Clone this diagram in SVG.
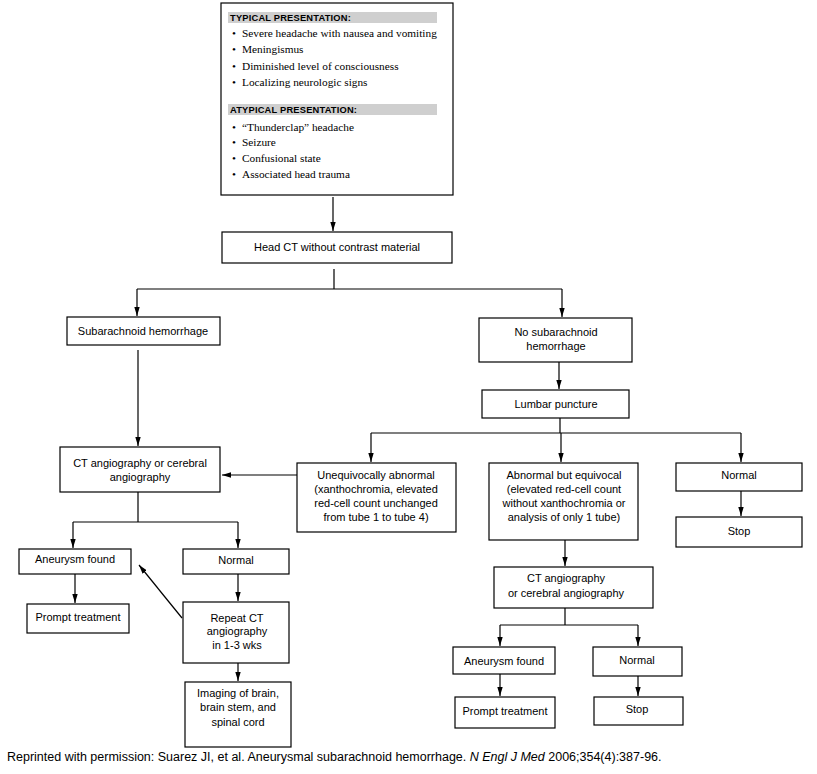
<svg xmlns="http://www.w3.org/2000/svg" width="817" height="774" viewBox="0 0 817 774">
<defs>
<marker id="ah" viewBox="0 0 10 6" refX="10" refY="3" markerWidth="9" markerHeight="5.4" markerUnits="userSpaceOnUse" orient="auto"><path d="M0,0 L10,3 L0,6 z" fill="#000"/></marker>
<style>
.box{fill:#fff;stroke:#000;stroke-width:1.2}
.t{font-family:"Liberation Sans",Arial,sans-serif;font-size:11px;fill:#000;text-anchor:middle}
.s{font-family:"Liberation Serif","Times New Roman",serif;font-size:11.3px;fill:#000}
.h{font-family:"Liberation Sans",Arial,sans-serif;font-size:9.3px;font-weight:bold;fill:#000;letter-spacing:0.2px}
.band{fill:#cfcfcf}
.c{fill:none;stroke:#000;stroke-width:1.2}
.a{fill:none;stroke:#000;stroke-width:1.2;marker-end:url(#ah)}
</style>
</defs>
<rect width="817" height="774" fill="#fff"/>
<g id="presentation">
<rect class="box" x="221" y="3" width="232" height="192"/>
<rect class="band" x="228" y="12" width="209" height="11"/>
<text class="h" x="230" y="21">TYPICAL PRESENTATION:</text>
<text class="s" y="37"><tspan x="232">•</tspan><tspan x="242">Severe headache with nausea and vomiting</tspan></text>
<text class="s" y="53"><tspan x="232">•</tspan><tspan x="242">Meningismus</tspan></text>
<text class="s" y="70"><tspan x="232">•</tspan><tspan x="242">Diminished level of consciousness</tspan></text>
<text class="s" y="86"><tspan x="232">•</tspan><tspan x="242">Localizing neurologic signs</tspan></text>
<rect class="band" x="228" y="104" width="209" height="11"/>
<text class="h" x="230" y="113">ATYPICAL PRESENTATION:</text>
<text class="s" y="131"><tspan x="232">•</tspan><tspan x="242">“Thunderclap” headache</tspan></text>
<text class="s" y="146"><tspan x="232">•</tspan><tspan x="242">Seizure</tspan></text>
<text class="s" y="162"><tspan x="232">•</tspan><tspan x="242">Confusional state</tspan></text>
<text class="s" y="178"><tspan x="232">•</tspan><tspan x="242">Associated head trauma</tspan></text>
</g>
<g id="headct"><rect class="box" x="222" y="232" width="230" height="31"/><text class="t" x="337" y="251">Head CT without contrast material</text></g>
<g id="sah"><rect class="box" x="67" y="317" width="153" height="28"/><text class="t" x="143" y="335">Subarachnoid hemorrhage</text></g>
<g id="nosah"><rect class="box" x="479" y="318" width="153" height="44"/><text class="t" x="556" y="336">No subarachnoid</text><text class="t" x="556" y="350">hemorrhage</text></g>
<g id="lp"><rect class="box" x="482" y="390" width="147" height="28"/><text class="t" x="556" y="408">Lumbar puncture</text></g>
<g id="ctangio1"><rect class="box" x="60" y="447" width="160" height="45"/><text class="t" x="140" y="467">CT angiography or cerebral</text><text class="t" x="140" y="481">angiography</text></g>
<g id="unequivocal"><rect class="box" x="297" y="463" width="159" height="69"/><text class="t" x="376" y="479">Unequivocally abnormal</text><text class="t" x="376" y="493">(xanthochromia, elevated</text><text class="t" x="376" y="507">red-cell count unchanged</text><text class="t" x="376" y="521">from tube 1 to tube 4)</text></g>
<g id="equivocal"><rect class="box" x="489" y="463" width="149" height="77"/><text class="t" x="564" y="479">Abnormal but equivocal</text><text class="t" x="564" y="493">(elevated red-cell count</text><text class="t" x="564" y="507">without xanthochromia or</text><text class="t" x="564" y="521">analysis of only 1 tube)</text></g>
<g id="normal1"><rect class="box" x="676" y="463" width="126" height="28"/><text class="t" x="739" y="479">Normal</text></g>
<g id="stop1"><rect class="box" x="676" y="517" width="126" height="30"/><text class="t" x="739" y="535">Stop</text></g>
<g id="aneurysm1"><rect class="box" x="19" y="549" width="112" height="25"/><text class="t" x="75" y="563">Aneurysm found</text></g>
<g id="prompt1"><rect class="box" x="27" y="604" width="102" height="29"/><text class="t" x="78" y="621">Prompt treatment</text></g>
<g id="normal2"><rect class="box" x="183" y="549" width="106" height="25"/><text class="t" x="236" y="564">Normal</text></g>
<g id="repeat"><rect class="box" x="183" y="602" width="106" height="61"/><text class="t" x="237" y="622">Repeat CT</text><text class="t" x="237" y="635">angiography</text><text class="t" x="237" y="649">in 1-3 wks</text></g>
<g id="imaging"><rect class="box" x="185" y="682" width="106" height="65"/><text class="t" x="238" y="697">Imaging of brain,</text><text class="t" x="238" y="711">brain stem, and</text><text class="t" x="238" y="726">spinal cord</text></g>
<g id="ctangio2"><rect class="box" x="494" y="567" width="159" height="41"/><text class="t" x="566" y="582">CT angiography</text><text class="t" x="566" y="597">or cerebral angiography</text></g>
<g id="aneurysm2"><rect class="box" x="453" y="647" width="102" height="27"/><text class="t" x="504" y="665">Aneurysm found</text></g>
<g id="normal3"><rect class="box" x="593" y="647" width="89" height="29"/><text class="t" x="637" y="664">Normal</text></g>
<g id="prompt2"><rect class="box" x="455" y="697" width="100" height="31"/><text class="t" x="505" y="715">Prompt treatment</text></g>
<g id="stop2"><rect class="box" x="594" y="697" width="89" height="28"/><text class="t" x="637" y="713">Stop</text></g>
<g id="connectors">
<path class="a" d="M333,197 V231"/>
<path class="c" d="M334,269 V289 M137,289 H562"/>
<path class="a" d="M137,289 V316"/>
<path class="a" d="M562,289 V317"/>
<path class="a" d="M138,350 V446"/>
<path class="a" d="M559,362 V389"/>
<path class="c" d="M560,418 V433 M371,433 H741"/>
<path class="a" d="M371,433 V462"/>
<path class="a" d="M561,433 V462"/>
<path class="a" d="M741,433 V462"/>
<path class="a" d="M297,475 H222"/>
<path class="a" d="M741,491 V516"/>
<path class="c" d="M138,492 V522 M73,522 H238"/>
<path class="a" d="M73,522 V548"/>
<path class="a" d="M238,522 V548"/>
<path class="a" d="M75,574 V603"/>
<path class="a" d="M238,574 V601"/>
<path class="a" d="M182,618 L139,565"/>
<path class="a" d="M238,663 V681"/>
<path class="a" d="M565,540 V566"/>
<path class="c" d="M565,608 V625 M500,625 H638"/>
<path class="a" d="M500,625 V646"/>
<path class="a" d="M638,625 V646"/>
<path class="a" d="M500,674 V696"/>
<path class="a" d="M638,676 V696"/>
</g>
<text x="7" y="761" font-family="Liberation Sans,Arial,sans-serif" font-size="12.5px" fill="#000">Reprinted with permission: Suarez JI, et al. Aneurysmal subarachnoid hemorrhage. <tspan font-style="italic">N Engl J Med</tspan> 2006;354(4):387-96.</text>
</svg>
